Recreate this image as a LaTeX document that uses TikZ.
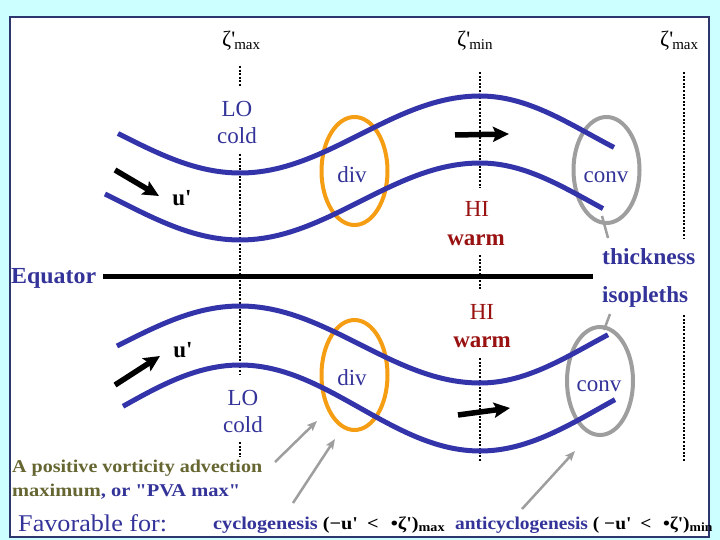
\documentclass[tikz,border=0pt]{standalone}
\usepackage{fontspec}
\setmainfont{Liberation Serif}[Ligatures=TeXOff]
\usetikzlibrary{arrows.meta,shapes.geometric}
\definecolor{bgcyan}{RGB}{204,255,255}
\definecolor{framec}{RGB}{45,55,110}
\definecolor{wave}{RGB}{51,51,170}
\definecolor{tblue}{RGB}{51,51,153}
\definecolor{tred}{RGB}{153,17,17}
\definecolor{tolive}{RGB}{102,102,51}
\definecolor{orng}{RGB}{245,158,20}
\definecolor{grey1}{RGB}{158,158,158}
\newcommand{\fitw}[2]{\resizebox{#1}{\height}{#2}}
\newcommand{\zetalbl}[1]{\raisebox{3pt}{\fontsize{22}{24}\selectfont ζ'}\kern-1pt{\fontsize{15}{18}\selectfont #1}}
\begin{document}
\begin{tikzpicture}[x=1pt,y=-1pt,
  wavel/.style={draw=wave, line width=5pt},
  vdot/.style={line width=2.8pt, dash pattern=on 2pt off 1.6pt},
  ovo/.style={ellipse, draw=orng, line width=4pt, inner sep=0pt},
  ovg/.style={ellipse, draw=grey1, line width=4pt, inner sep=0pt},
  ptr/.style={draw=grey1, line width=2.5pt, -{Stealth[length=10pt,width=8pt,inset=2pt]}},
  flow/.style={line width=5.5pt, -{Stealth[length=16pt,width=15pt,inset=3pt]}},
  lbl/.style={inner sep=0pt, anchor=base},
  big/.style={font=\fontsize{23}{27}\selectfont},
  bigb/.style={font=\fontsize{23}{27}\selectfont\bfseries},
  small/.style={font=\fontsize{18}{21}\selectfont\bfseries},
  zl/.style={inner sep=0pt, anchor=base west}
]
\useasboundingbox (0,0) rectangle (720,540);
\fill[bgcyan] (0,0) rectangle (720,540);
\filldraw[fill=white, draw=framec, line width=2pt] (10,17) rectangle (709,537);

% zeta labels
\node[zl] (z1) at (222,50) {\zetalbl{max}};
\node[zl] (z2) at (457,50) {\zetalbl{min}};
\node[zl] (z3) at (660,50) {\zetalbl{max}};

% dotted verticals
\draw[vdot] (240,66) -- (240,87);
\draw[vdot] (240,154) -- (240,375);
\draw[vdot] (240,442) -- (240,457);
\draw[vdot] (480,72) -- (480,188);
\draw[vdot] (480,255) -- (480,290);
\draw[vdot] (480,358) -- (480,462);
\draw[vdot] (684,72) -- (684,238);
\draw[vdot] (684,315) -- (684,462);

% ellipses
\node[ovo, minimum width=66pt, minimum height=108pt] (ediv1) at (354.5,171) {};
\node[ovo, minimum width=66pt, minimum height=110pt] (ediv2) at (354.5,375) {};
\node[ovg, minimum width=66pt, minimum height=106pt] (econv1) at (606.5,170) {};
\node[ovg, minimum width=66pt, minimum height=108pt] (econv2) at (600,381) {};

% waves
\draw[wavel] plot[domain=118:480,samples=70,variable=\t] (\t,{134.5+38.5*cos((\t-240)*0.75)})
  -- plot[domain=480:614,samples=30,variable=\t] (\t,{134.5-38.5*cos((\t-480)*0.8182)});
\draw[wavel] plot[domain=105:480,samples=70,variable=\t] (\t,{201.5+38.5*cos((\t-240)*0.75)})
  -- plot[domain=480:603,samples=30,variable=\t] (\t,{201.5-38.5*cos((\t-480)*0.8182)});
\draw[wavel] plot[domain=117:480,samples=70,variable=\t] (\t,{344.5-38.5*cos((\t-240)*0.75)})
  -- plot[domain=480:608,samples=30,variable=\t] (\t,{344.5+38.5*cos((\t-480)*0.8182)});
\draw[wavel] plot[domain=123:480,samples=70,variable=\t] (\t,{408-43*cos((\t-240)*0.75)})
  -- plot[domain=480:615,samples=30,variable=\t] (\t,{408+43*cos((\t-480)*0.75)});

% equator
\node[lbl, anchor=base west, bigb, text=tblue] (eq) at (11,283) {\fitw{85pt}{Equator}};
\coordinate (eqa) at (103,276);
\coordinate (eqb) at (593,276);
\draw[line width=5pt] (eqa) -- (eqb);

% black flow arrows
\coordinate (f1a) at (115,170); \coordinate (f1b) at (159,196);
\coordinate (f2a) at (115,385); \coordinate (f2b) at (160,356);
\coordinate (f3a) at (455,135); \coordinate (f3b) at (509,134);
\coordinate (f4a) at (458,415); \coordinate (f4b) at (510,408);
\draw[flow] (f1a) -- (f1b);
\draw[flow] (f2a) -- (f2b);
\draw[flow] (f3a) -- (f3b);
\draw[flow] (f4a) -- (f4b);

% labels
\node[lbl, big, text=tblue] (lo1) at (237,117) {LO};
\node[lbl, big, text=tblue] (cold1) at (237,144) {cold};
\node[lbl, big, text=tblue] (lo2) at (243,405) {LO};
\node[lbl, big, text=tblue] (cold2) at (243,432) {cold};
\node[lbl, big, text=tblue] (div1) at (352,183) {div};
\node[lbl, big, text=tblue] (conv1) at (606,183) {conv};
\node[lbl, big, text=tblue] (div2) at (352,385) {div};
\node[lbl, big, text=tblue] (conv2) at (599,391) {conv};
\node[lbl, big, text=tred] (hi1) at (477,217) {HI};
\node[lbl, bigb, text=tred] (warm1) at (476,245) {warm};
\node[lbl, big, text=tred] (hi2) at (482,319) {HI};
\node[lbl, bigb, text=tred] (warm2) at (482,347) {warm};
\node[lbl, bigb] (u1) at (182,206) {u'};
\node[lbl, bigb] (u2) at (183,357) {u'};
\node[lbl, anchor=base west, bigb, text=tblue] (thick) at (602,265) {\fitw{93pt}{thickness}};
\node[lbl, anchor=base west, bigb, text=tblue] (iso) at (602,302) {\fitw{86pt}{isopleths}};

% thickness pointers
\coordinate (t1a) at (602,216); \coordinate (t1b) at (608,238);
\coordinate (t2a) at (610,314); \coordinate (t2b) at (604,330);
\draw[grey1, line width=2.5pt] (t1a) -- (t1b);
\draw[grey1, line width=2.5pt] (t2a) -- (t2b);

% bottom texts
\node[lbl, anchor=base west, small] (pva1) at (12,472) {\fitw{250pt}{\textcolor{tolive}{A positive vorticity advection}}};
\node[lbl, anchor=base west, small] (pva2) at (12,496) {\fitw{228pt}{\textcolor{tolive}{maximum}\textcolor{tblue}{, or "PVA max"}}};
\node[lbl, anchor=base west, font=\fontsize{24}{28}\selectfont, text=tblue] (fav) at (18,531) {\fitw{149pt}{Favorable for:}};
\node[lbl, anchor=base west, small] (cyc) at (213,529) {\fitw{232pt}{\textcolor{tblue}{cyclogenesis} (−u'\hspace{0.45em}<\hspace{0.6em}•ζ')\textsubscript{max}}};
\node[lbl, anchor=base west, small] (acyc) at (455,529) {\scalebox{1.08}[1]{\textcolor{tblue}{anticyclogenesis} ( −u'\hspace{0.45em}<\hspace{0.6em}•ζ')\textsubscript{min}}};

% grey pointer arrows
\coordinate (p1a) at (275,462); \coordinate (p1b) at (317,421);
\coordinate (p2a) at (293,503); \coordinate (p2b) at (335,439);
\coordinate (p3a) at (522,509); \coordinate (p3b) at (575,451);
\draw[ptr] (p1a) -- (p1b);
\draw[ptr] (p2a) -- (p2b);
\draw[ptr] (p3a) -- (p3b);
\end{tikzpicture}
\end{document}
